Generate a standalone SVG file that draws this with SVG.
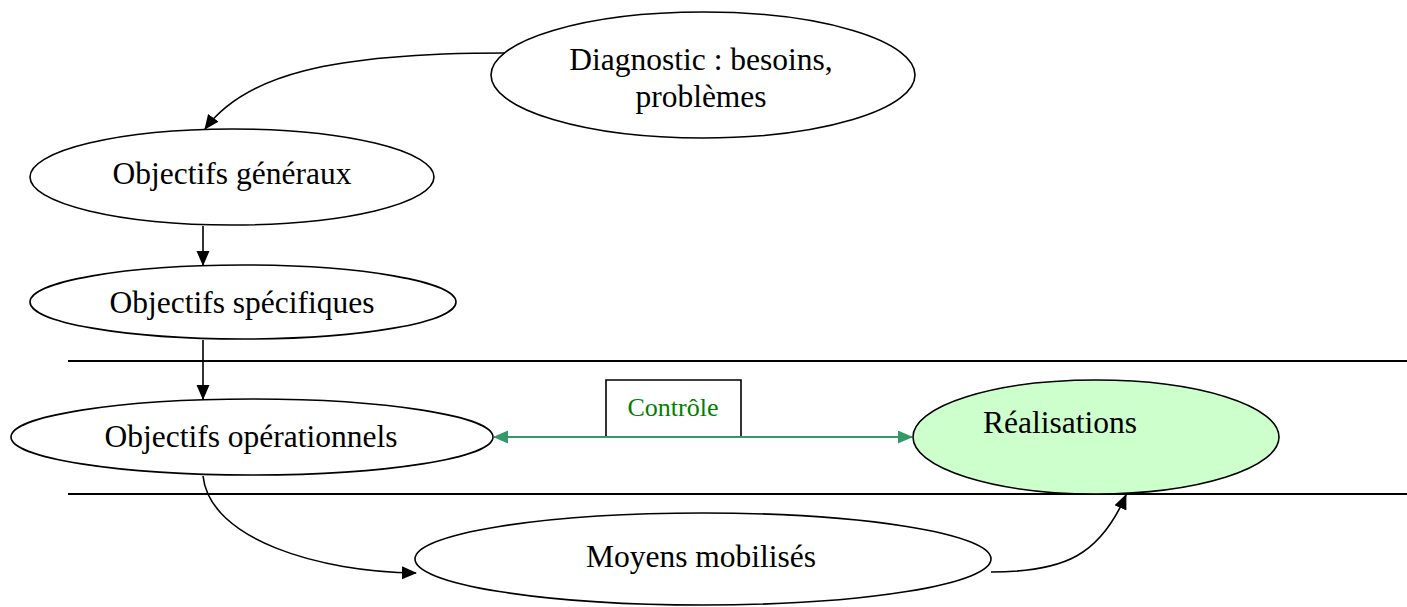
<svg xmlns="http://www.w3.org/2000/svg" width="1407" height="607" viewBox="0 0 1407 607">
  <style>
    .node { fill: #ffffff; stroke: #000000; stroke-width: 1.6; }
    .done { fill: #ccffcc; stroke: #000000; stroke-width: 1.6; }
    .lbl { font-family: "Liberation Serif", "Times New Roman", serif; font-size: 31.5px; fill: #000000; text-anchor: middle; }
    .ctl { font-family: "Liberation Serif", "Times New Roman", serif; font-size: 26px; fill: #008000; text-anchor: middle; }
    .edge { fill: none; stroke: #000000; stroke-width: 1.6; }
    .green { fill: none; stroke: #339966; stroke-width: 2.2; }
    .band { stroke: #000000; stroke-width: 1.8; }
  </style>
  <defs>
    <marker id="arrow" markerUnits="userSpaceOnUse" markerWidth="16" markerHeight="14" refX="14" refY="6.5" orient="auto">
      <path d="M0,0 L15,6.5 L0,13 z" fill="#000000"/>
    </marker>
    <marker id="garrow" markerUnits="userSpaceOnUse" markerWidth="16" markerHeight="14" refX="14" refY="6.5" orient="auto-start-reverse">
      <path d="M0,0 L15,6.5 L0,13 z" fill="#339966"/>
    </marker>
  </defs>

  <rect width="1407" height="607" fill="#ffffff"/>

  <!-- horizontal band around the operational level -->
  <g id="band">
    <line class="band" x1="68" y1="361" x2="1407" y2="361"/>
    <line class="band" x1="68" y1="494" x2="1407" y2="494"/>
  </g>

  <g id="diagnostic">
    <ellipse class="node" cx="703" cy="75" rx="212" ry="63"/>
    <text class="lbl" x="701" y="70">Diagnostic : besoins,</text>
    <text class="lbl" x="701" y="107">problèmes</text>
  </g>

  <g id="objectifs-generaux">
    <ellipse class="node" cx="232" cy="177" rx="202" ry="48"/>
    <text class="lbl" x="232" y="184">Objectifs généraux</text>
  </g>

  <g id="objectifs-specifiques">
    <ellipse class="node" cx="243" cy="302" rx="213" ry="37"/>
    <text class="lbl" x="242" y="313">Objectifs spécifiques</text>
  </g>

  <g id="objectifs-operationnels">
    <ellipse class="node" cx="252" cy="437" rx="241" ry="38"/>
    <text class="lbl" x="251" y="447">Objectifs opérationnels</text>
  </g>

  <g id="realisations">
    <ellipse class="done" cx="1096" cy="437" rx="183" ry="57"/>
    <text class="lbl" x="1060" y="433">Réalisations</text>
  </g>

  <g id="moyens">
    <ellipse class="node" cx="703" cy="559" rx="288" ry="46"/>
    <text class="lbl" x="701" y="567">Moyens mobilisés</text>
  </g>

  <g id="controle">
    <path d="M606,437 V380 H741 V437" fill="#ffffff" stroke="#000000" stroke-width="1.6"/>
    <text class="ctl" x="673" y="416">Contrôle</text>
  </g>

  <g id="connectors">
    <path class="edge" d="M505,53 C330,53 245,75 205,129" marker-end="url(#arrow)"/>
    <path class="edge" d="M203,226 L203,265" marker-end="url(#arrow)"/>
    <path class="edge" d="M203,340 L203,399" marker-end="url(#arrow)"/>
    <path class="edge" d="M203,476 C210,540 320,572 416,573" marker-end="url(#arrow)"/>
    <path class="edge" d="M991,572 C1065,572 1100,555 1126,495" marker-end="url(#arrow)"/>
    <path class="green" d="M494,437 L912,437" marker-start="url(#garrow)" marker-end="url(#garrow)"/>
  </g>
</svg>
